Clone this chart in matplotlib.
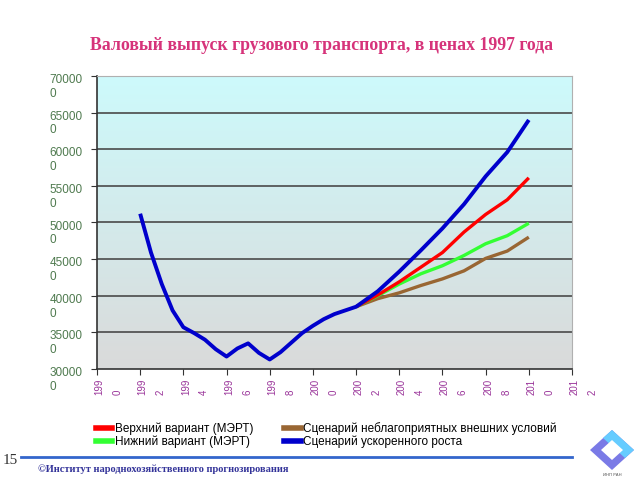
import numpy as np
import matplotlib
matplotlib.use("Agg")
from matplotlib import pyplot as plt
from matplotlib.lines import Line2D
from matplotlib.patches import Polygon
from matplotlib.transforms import ScaledTranslation

# data (half-year reads for the history part)
years_hist = [1992, 1992.5, 1993, 1993.5, 1994, 1994.5, 1995, 1995.5, 1996, 1996.5, 1997,
              1997.5, 1998, 1998.5, 1999, 1999.5, 2000, 2000.5, 2001, 2001.5, 2002]
hist = [512000, 459000, 416000, 380000, 357000, 349000, 340000, 327000, 317000, 328000, 335000,
        322000, 313000, 323000, 336000, 349000, 359000, 368000, 375000, 380000, 385000]

years_fc = [2002, 2003, 2004, 2005, 2006, 2007, 2008, 2009, 2010]
fast = [385000, 406000, 433000, 462000, 492000, 525000, 563000, 596000, 640000]
upper = [385000, 401000, 419000, 439000, 459000, 487000, 511000, 531000, 561000]
lower = [385000, 400000, 416000, 430000, 441000, 455000, 471000, 482000, 499000]
adverse = [385000, 396000, 404000, 414000, 423000, 434000, 451000, 461000, 480000]

x_ticks = list(range(1990, 2013, 2))
y_ticks = list(range(300000, 700001, 50000))

title = "Валовый выпуск грузового транспорта, в ценах 1997 года"
labels = ["Верхний вариант (МЭРТ)", "Нижний вариант (МЭРТ)",
          "Сценарий неблагоприятных внешних условий", "Сценарий ускоренного роста"]


def wrap(s, n):
    return s[:n] + "\n" + s[n:]


fig = plt.figure(figsize=(6.4, 4.8), dpi=100)
ax = fig.add_axes([97 / 640, 1 - 369 / 480, 475 / 640, 293 / 480])

# gradient background: light cyan at top to light grey at bottom
top = np.array([205, 250, 252]) / 255
bot = np.array([218, 218, 218]) / 255
t = np.linspace(0, 1, 256)[:, None]
grad = (top * (1 - t) + bot * t)[:, None, :]
ax.imshow(grad, extent=[0, 1, 0, 1], transform=ax.transAxes, aspect="auto", zorder=0)

ax.set_xlim(1990, 2012)
ax.set_ylim(300000, 700000)
for y in y_ticks[1:]:
    ax.axhline(y, color="#4a4a4a", lw=1.2, zorder=1)

kw = dict(solid_joinstyle="round", solid_capstyle="butt")
ax.plot(years_fc, adverse, color="#996633", lw=2.4, zorder=3, **kw)
ax.plot(years_fc, lower, color="#33ff33", lw=2.4, zorder=3, **kw)
ax.plot(years_fc, upper, color="#ff0000", lw=2.4, zorder=3, **kw)
ax.plot(years_hist + years_fc[1:], hist + fast[1:], color="#0000cc", lw=2.8, zorder=4, **kw)

ax.set_yticks(y_ticks)
ax.set_yticklabels([wrap(str(v), 5) for v in y_ticks], fontsize=8.5, color="#4f7a4f",
                   family="Liberation Sans", ha="left", va="top", multialignment="left")
ax.tick_params(axis="y", direction="out", length=4, pad=30, color="#333333")
for lab in ax.get_yticklabels():
    lab.set_transform(lab.get_transform() + ScaledTranslation(0, 2 / 100, fig.dpi_scale_trans))

ax.set_xticks(x_ticks)
ax.set_xticklabels([wrap(str(v), 3) for v in x_ticks], fontsize=7, color="#993399",
                   family="Liberation Sans", rotation=90, ha="center", va="top",
                   multialignment="left", linespacing=2.0)
ax.tick_params(axis="x", direction="out", length=4, pad=3, color="#333333")
for lab in ax.get_xticklabels():
    lab.set_transform(lab.get_transform() + ScaledTranslation(11.5 / 100, 0, fig.dpi_scale_trans))

for s in ["top", "right"]:
    ax.spines[s].set_color("#b0b0b0")
for s in ["left", "bottom"]:
    ax.spines[s].set_color("#333333")
    ax.spines[s].set_linewidth(1.2)

fig.text(322 / 640, 1 - 45 / 480, title, ha="center", va="center", fontsize=12.8,
         fontweight="bold", family="Liberation Serif", color="#d6337a")

handles = [Line2D([], [], color=c, lw=4) for c in ["#ff0000", "#33ff33", "#996633", "#0000cc"]]
fig.legend(handles, labels, ncol=2, loc="upper left", bbox_to_anchor=(90 / 640, 1 - 416 / 480),
           frameon=False, prop={"family": "Liberation Sans", "size": 8.5},
           handlelength=1.4, handletextpad=0.2, columnspacing=2.6, labelspacing=0.05,
           borderpad=0)

# slide footer
fig.text(3 / 640, 1 - 460 / 480, "15", ha="left", va="center", fontsize=11,
         family="Liberation Serif", color="#333333")
fig.add_artist(Line2D([21 / 640, 572 / 640], [1 - 457 / 480] * 2, color="#3366cc", lw=2))
fig.text(38 / 640, 1 - 469 / 480, "©Институт народнохозяйственного прогнозирования",
         ha="left", va="center", fontsize=7.5, fontweight="bold", family="Liberation Serif",
         color="#333399")


# logo
def px(pts):
    return [(x / 640, 1 - y / 480) for x, y in pts]


fig.add_artist(Polygon(px([(590, 450), (612, 430), (634, 450), (612, 470)]),
                       closed=True, facecolor="#7a7ae6", edgecolor="none"))
fig.add_artist(Polygon(px([(612, 430), (634, 450), (625, 458), (603, 438)]),
                       closed=True, facecolor="#66ccff", edgecolor="none"))
fig.add_artist(Polygon(px([(601, 450), (612, 440), (623, 450), (612, 460)]),
                       closed=True, facecolor="white", edgecolor="none"))
fig.text(612 / 640, 1 - 475 / 480, "ИНП РАН", ha="center", va="center", fontsize=3,
         color="#555555")

fig.savefig("out.png", dpi=100)
